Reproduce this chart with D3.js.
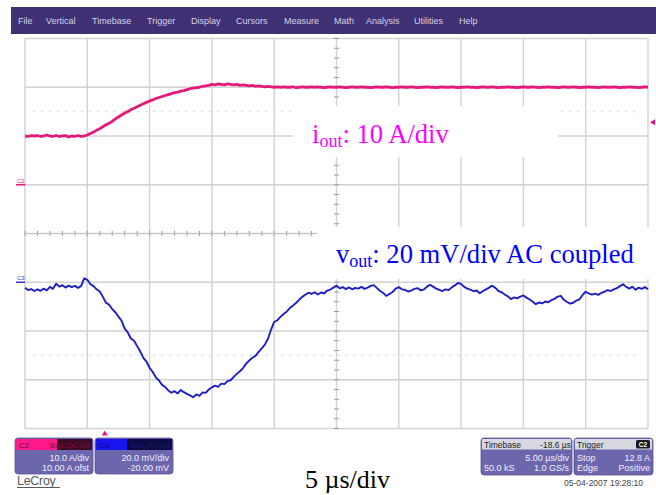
<!DOCTYPE html>
<html>
<head>
<meta charset="utf-8">
<script src="https://cdn.jsdelivr.net/npm/d3@7/dist/d3.min.js"></script>
<style>
  html, body { margin: 0; padding: 0; background: #ffffff; }
  svg { display: block; }
</style>
</head>
<body>
<svg id="scope" width="656" height="495"></svg>
<script>
// ---- Acquisition: uniform sampling, time in µs relative to trigger ----
const sampleStart = -6.4;   // µs at left edge of screen
const sampleStep = 0.25;    // µs between stored samples

// Channel 2: output current (A)
const ioutAmps = [
  10.0, 9.9, 10.1, 10.0, 10.1, 9.9, 10.0, 10.2, 10.0, 9.9,
  10.1, 9.9, 10.0, 10.1, 9.8, 10.0, 9.9, 10.1, 9.9, 10.0,
  10.2, 10.5, 10.8, 11.2, 11.5, 11.9, 12.3, 12.6, 13.0, 13.5,
  13.9, 14.3, 14.7, 15.0, 15.4, 15.7, 16.0, 16.3, 16.6, 16.9,
  17.2, 17.4, 17.7, 17.9, 18.1, 18.3, 18.5, 18.7, 18.9, 19.0,
  19.2, 19.3, 19.5, 19.7, 19.8, 19.9, 20.0, 20.2, 20.3, 20.4,
  20.6, 20.5, 20.7, 20.6, 20.5, 20.7, 20.6, 20.5, 20.6, 20.4,
  20.5, 20.4, 20.3, 20.4, 20.2, 20.3, 20.2, 20.1, 20.2, 20.1,
  20.0,
  20.1, 20.0, 20.1, 20.0, 20.0, 20.1, 19.9, 20.0, 20.1, 20.0,
  20.0, 20.1, 20.0, 20.1, 20.0, 19.9, 20.0, 20.1, 20.0, 20.0,
  20.1, 20.0, 19.9, 20.0, 20.1, 20.0, 20.0, 20.1, 20.0, 20.0,
  19.9, 20.0, 20.1, 20.0, 20.0, 20.1, 20.0, 19.9, 20.0, 20.0,
  20.1, 20.0, 20.0, 20.1, 20.0, 19.9, 20.0, 20.0, 20.1, 20.0,
  20.0, 19.9, 20.0, 20.1, 20.0, 20.0, 20.1, 20.0, 19.9, 20.0,
  20.0, 20.1, 20.0, 20.0, 19.9, 20.0, 20.1, 20.0, 20.0, 20.1,
  20.0, 19.9, 20.0, 20.0, 20.1, 20.0, 20.0, 19.9, 20.0, 20.1,
  20.0, 20.0, 20.1, 20.0, 19.9, 20.0, 20.0, 20.1, 20.0, 20.0,
  19.9, 20.0, 20.1, 20.0, 20.0, 20.1, 20.0, 19.9, 20.0, 20.0,
  20.1, 20.0, 20.0, 19.9, 20.0, 20.1, 20.0, 20.0, 20.1, 20.0,
  19.9, 20.0, 20.0, 20.1, 20.0, 20.0, 19.9, 20.0, 20.1, 20.0
];

// Channel 3: output voltage deviation, AC coupled (mV)
const voutMillivolts = [
  -2.3, -3.2, -2.8, -3.6, -2.9, -3.5, -2.6, -3.3, -1.9, -2.7,
  -0.6, -1.8, -1.2, -2.2, -1.4, -2.0, -1.5, -2.3, -1.6, 1.6,
  1.0, -0.8, -1.6, -2.9, -3.8, -6.0, -8.4, -9.2, -11.0, -12.3,
  -14.1, -15.8, -19.0, -20.6, -23.1, -24.0, -26.2, -28.4, -31.0, -32.6,
  -35.1, -36.8, -39.0, -40.3, -42.1, -43.0, -44.4, -45.3, -44.7, -45.6,
  -44.2, -45.1, -45.8, -46.4, -47.2, -46.0, -46.6, -45.2, -45.4, -44.0,
  -43.1, -42.4, -42.9, -41.6, -41.8, -40.6, -40.2, -38.8, -37.6, -36.5,
  -35.2, -33.4, -32.1, -31.0, -30.2, -28.6, -27.1, -25.6, -23.2, -19.4,
  -16.3, -15.6, -14.2, -13.0, -12.1, -10.6, -9.6, -8.5, -7.2, -6.0,
  -5.1, -4.3, -4.8, -4.1, -5.0, -4.2, -4.6, -3.4, -3.0, -2.2,
  -1.4, -2.5, -2.0, -2.8, -2.1, -2.9, -2.3, -2.6, -1.9, -2.7,
  -2.2, -1.5, -1.2, -2.4, -3.6, -4.4, -5.6, -4.8, -4.0, -2.6,
  -2.0, -2.9, -3.1, -3.8, -3.4, -2.7, -2.4, -3.3, -3.0, -1.9,
  -1.0, -1.8, -2.6, -3.1, -3.6, -2.9, -3.2, -2.1, -1.3, -0.3,
  -0.7, -1.9, -2.6, -3.0, -3.7, -3.4, -4.5, -3.6, -2.9, -2.2,
  -1.4, -2.3, -3.6, -4.1, -5.0, -5.8, -6.9, -6.2, -6.6, -5.9,
  -5.4, -6.3, -7.1, -8.0, -9.0, -8.3, -8.7, -7.9, -8.2, -7.3,
  -6.8, -5.9, -5.6, -7.2, -8.1, -8.8, -8.4, -7.5, -7.0, -5.2,
  -3.9, -4.6, -5.1, -4.7, -5.2, -4.4, -3.9, -3.2, -3.6, -2.9,
  -2.4, -1.6, -0.8, -1.9, -2.6, -1.8, -3.1, -2.2, -2.7, -2.0,
  -2.9
];

// Screen setup
const timePerDiv = 5;          // µs/div
const hDivs = 10, vDivs = 8;
const ch2PerDiv = 10, ch2Offset = 10;    // A/div, A offset
const ch3PerDiv = 20, ch3Offset = -20;   // mV/div, mV offset
const triggerLevel = 12.8;     // A
const triggerTime = 0;         // µs

const menuItems = ["File", "Vertical", "Timebase", "Trigger", "Display", "Cursors",
                   "Measure", "Math", "Analysis", "Utilities", "Help"];
const menuX = [18, 46, 92, 147, 191, 236, 284, 334, 366, 414, 459];

(function draw() {
  // ---- Geometry ----
  const gLeft = 25, gRight = 648, gTop = 38.5, gBottom = 428.5;

  const svg = d3.select("#scope");

  const x = d3.scaleLinear()
    .domain([sampleStart, sampleStart + hDivs * timePerDiv])
    .range([gLeft, gRight]);
  const yDiv = d3.scaleLinear().domain([-vDivs / 2, vDivs / 2]).range([gBottom, gTop]);
  // centre of screen sits at -offset
  const yCh2 = d3.scaleLinear()
    .domain([-ch2Offset - ch2PerDiv * vDivs / 2, -ch2Offset + ch2PerDiv * vDivs / 2])
    .range([gBottom, gTop]);
  const yCh3 = d3.scaleLinear()
    .domain([-ch3Offset - ch3PerDiv * vDivs / 2, -ch3Offset + ch3PerDiv * vDivs / 2])
    .range([gBottom, gTop]);

  const tOf = i => sampleStart + i * sampleStep;

  // ---- Menu bar ----
  svg.append("rect").attr("x", 11).attr("y", 7).attr("width", 645).attr("height", 27)
    .attr("fill", "#3f3173");
  svg.append("g").selectAll("text").data(menuItems).join("text")
    .attr("x", (d, i) => menuX[i]).attr("y", 24)
    .attr("font-family", "Liberation Sans, Arial, sans-serif")
    .attr("font-size", 9).attr("fill", "#d6d2ea")
    .text(d => d);

  // ---- Graticule ----
  const grid = svg.append("g");
  const vLines = d3.range(0, hDivs + 1).map(k => sampleStart + k * timePerDiv);
  const hLines = d3.range(-vDivs / 2, vDivs / 2 + 1);

  grid.selectAll(".gv").data(vLines).join("line")
    .attr("x1", d => x(d)).attr("x2", d => x(d))
    .attr("y1", gTop).attr("y2", gBottom)
    .attr("stroke", "#d2d2d2").attr("stroke-width", 1.4);
  grid.selectAll(".gh").data(hLines).join("line")
    .attr("x1", gLeft).attr("x2", gRight)
    .attr("y1", d => yDiv(d)).attr("y2", d => yDiv(d))
    .attr("stroke", "#d2d2d2").attr("stroke-width", 1.4);

  // faint dashed half-division lines
  grid.selectAll(".gf").data([2.5, -2.5]).join("line")
    .attr("x1", gLeft + 8).attr("x2", gRight - 8)
    .attr("y1", d => yDiv(d)).attr("y2", d => yDiv(d))
    .attr("stroke", "#e0e0e0").attr("stroke-width", 1.2)
    .attr("stroke-dasharray", "3,5");

  // minor ticks on the centre cross
  const xCenter = x(sampleStart + hDivs * timePerDiv / 2);
  const yCenter = yDiv(0);
  const hMinor = d3.range(0, hDivs * 5 + 1).map(k => sampleStart + k * timePerDiv / 5);
  const vMinor = d3.range(-vDivs / 2 * 5, vDivs / 2 * 5 + 1).map(k => k / 5);
  grid.selectAll(".mh").data(hMinor).join("line")
    .attr("x1", d => x(d)).attr("x2", d => x(d))
    .attr("y1", yCenter - 2.5).attr("y2", yCenter + 2.5)
    .attr("stroke", "#9a9a9a").attr("stroke-width", 1);
  grid.selectAll(".mv").data(vMinor).join("line")
    .attr("x1", xCenter - 2.5).attr("x2", xCenter + 2.5)
    .attr("y1", d => yDiv(d)).attr("y2", d => yDiv(d))
    .attr("stroke", "#9a9a9a").attr("stroke-width", 1);
  grid.append("line")
    .attr("x1", gLeft).attr("x2", gRight).attr("y1", yCenter).attr("y2", yCenter)
    .attr("stroke", "#c4c4c4").attr("stroke-width", 1);

  // ---- Traces ----
  const ch2Color = "#e5197a", ch3Color = "#1e1ec6";

  svg.append("path").datum(ioutAmps)
    .attr("fill", "none").attr("stroke", ch2Color).attr("stroke-width", 2.8)
    .attr("stroke-linejoin", "round")
    .attr("d", d3.line().x((d, i) => x(tOf(i))).y(d => yCh2(d)));

  svg.append("path").datum(voutMillivolts)
    .attr("fill", "none").attr("stroke", ch3Color).attr("stroke-width", 1.9)
    .attr("stroke-linejoin", "round")
    .attr("d", d3.line().x((d, i) => x(tOf(i))).y(d => yCh3(d)));

  // ---- Channel ground markers ----
  function groundMarker(label, yPos, color) {
    const g = svg.append("g");
    g.append("line").attr("x1", 16).attr("x2", gLeft).attr("y1", yPos).attr("y2", yPos)
      .attr("stroke", color).attr("stroke-width", 1.6);
    g.append("text").attr("x", 17).attr("y", yPos - 2)
      .attr("font-family", "Liberation Sans, Arial, sans-serif")
      .attr("font-size", 6).attr("fill", color).text(label);
  }
  groundMarker("C2", yCh2(0), ch2Color);
  groundMarker("C3", yCh3(0), "#3a3ad0");

  // trigger level (right) and trigger time (bottom) markers
  const tl = yCh2(triggerLevel);
  svg.append("path")
    .attr("d", `M${gRight + 2},${tl} L${gRight + 7},${tl - 3} L${gRight + 7},${tl + 3} Z`)
    .attr("fill", ch2Color);
  const tx = x(triggerTime);
  svg.append("path")
    .attr("d", `M${tx},${gBottom + 2} L${tx - 3},${gBottom + 7} L${tx + 3},${gBottom + 7} Z`)
    .attr("fill", ch2Color);

  // ---- Trace annotations ----
  function annotation(box, tx0, ty, main, sub, rest, color) {
    svg.append("rect").attr("x", box[0]).attr("y", box[1])
      .attr("width", box[2] - box[0]).attr("height", box[3] - box[1]).attr("fill", "#ffffff");
    const t = svg.append("text").attr("x", tx0).attr("y", ty)
      .attr("font-family", "Liberation Serif, Times New Roman, serif")
      .attr("font-size", 26.6).attr("fill", color);
    t.append("tspan").text(main);
    t.append("tspan").attr("font-size", 18).attr("dy", 4).text(sub);
    t.append("tspan").attr("dy", -4).text(rest);
  }
  annotation([293, 106, 558, 157], 312, 142.5, "i", "out", ": 10 A/div", "#ff00ff");
  annotation([317, 227, 652, 279], 336, 263, "v", "out", ": 20 mV/div AC coupled", "#0000ff");

  // ---- Status boxes ----
  const sans = "Liberation Sans, Arial, sans-serif";
  const bodyFill = "#6c66ad", textFill = "#f2f0ff";

  function channelBox(x0, w, head1, head2, split, line1, line2, cLeft, cRight, headText, headText2) {
    const g = svg.append("g");
    g.append("rect").attr("x", x0).attr("y", 438).attr("width", w).attr("height", 36)
      .attr("rx", 3).attr("fill", bodyFill).attr("stroke", "#5a5499").attr("stroke-width", 0.8);
    g.append("rect").attr("x", x0 + 1).attr("y", 439).attr("width", split - 1).attr("height", 11)
      .attr("fill", cLeft);
    g.append("rect").attr("x", x0 + split).attr("y", 439).attr("width", w - split - 1).attr("height", 11)
      .attr("fill", cRight);
    g.append("text").attr("x", x0 + 4).attr("y", 448).attr("font-family", sans)
      .attr("font-size", 8).attr("fill", headText).text(head1);
    g.append("text").attr("x", x0 + w - 3).attr("y", 448).attr("text-anchor", "end")
      .attr("font-family", sans).attr("font-size", 8).attr("fill", headText2).text(head2);
    g.append("text").attr("x", x0 + w - 4).attr("y", 460.5).attr("text-anchor", "end")
      .attr("font-family", sans).attr("font-size", 9).attr("fill", textFill).text(line1);
    g.append("text").attr("x", x0 + w - 4).attr("y", 470.5).attr("text-anchor", "end")
      .attr("font-family", sans).attr("font-size", 9).attr("fill", textFill).text(line2);
  }
  channelBox(15, 78, "C2", "BwL DC1M", 42, `${ch2PerDiv.toFixed(1)} A/div`,
    `${ch2Offset.toFixed(2)} A ofst`, "#ff1a8a", "#3c0a24", "#6a0a30", "#7a1040");
  channelBox(95, 78, "C3", "BwL AC1M", 32, `${ch3PerDiv.toFixed(1)} mV/div`,
    `${ch3Offset.toFixed(2)} mV`, "#1a14ee", "#0c0a44", "#0a0a70", "#1a1a66");

  function infoBox(x0, w, title, titleRight, rows, badge) {
    const g = svg.append("g");
    g.append("rect").attr("x", x0).attr("y", 438).attr("width", w).attr("height", 37)
      .attr("rx", 3).attr("fill", bodyFill).attr("stroke", "#5a5499").attr("stroke-width", 0.8);
    g.append("rect").attr("x", x0 + 1).attr("y", 439).attr("width", w - 2).attr("height", 10.5)
      .attr("fill", "#d8d8e0");
    g.append("text").attr("x", x0 + 3).attr("y", 447.5).attr("font-family", sans)
      .attr("font-size", 8.5).attr("fill", "#222").text(title);
    if (titleRight) {
      g.append("text").attr("x", x0 + w - 1).attr("y", 447.5).attr("text-anchor", "end")
        .attr("font-family", sans).attr("font-size", 8.5).attr("fill", "#222").text(titleRight);
    }
    if (badge) {
      g.append("rect").attr("x", x0 + w - 17).attr("y", 440).attr("width", 14).attr("height", 8.5)
        .attr("rx", 1.5).attr("fill", "#1a1a22");
      g.append("text").attr("x", x0 + w - 10).attr("y", 447).attr("text-anchor", "middle")
        .attr("font-family", sans).attr("font-size", 6.5).attr("font-weight", "bold")
        .attr("fill", "#ffffff").text(badge);
    }
    rows.forEach((r, k) => {
      const yy = 461 + k * 10;
      if (r[0]) g.append("text").attr("x", x0 + 3).attr("y", yy).attr("font-family", sans)
        .attr("font-size", 9).attr("fill", textFill).text(r[0]);
      if (r[1]) g.append("text").attr("x", x0 + w - 3).attr("y", yy).attr("text-anchor", "end")
        .attr("font-family", sans).attr("font-size", 9).attr("fill", textFill).text(r[1]);
    });
  }
  infoBox(481, 91, "Timebase", "-18.6 µs",
    [["", `${timePerDiv.toFixed(2)} µs/div`], ["50.0 kS", "1.0 GS/s"]]);
  infoBox(574, 79, "Trigger", null,
    [["Stop", `${triggerLevel} A`], ["Edge", "Positive"]], "C2");

  svg.append("text").attr("x", 643).attr("y", 485.5).attr("text-anchor", "end")
    .attr("font-family", sans).attr("font-size", 8.5).attr("fill", "#444").text("05-04-2007 19:28:10");

  // maker logo
  svg.append("text").attr("x", 17).attr("y", 485).attr("font-family", sans)
    .attr("font-size", 12.5).attr("fill", "#5a5a5a").attr("letter-spacing", -0.3)
    .text("LeCroy");
  svg.append("line").attr("x1", 17).attr("x2", 60).attr("y1", 487.5).attr("y2", 487.5)
    .attr("stroke", "#5a5a5a").attr("stroke-width", 1.2);

  // horizontal scale caption
  svg.append("text").attr("x", 305).attr("y", 488)
    .attr("font-family", "Liberation Serif, Times New Roman, serif")
    .attr("font-size", 26).attr("fill", "#000").text(`${timePerDiv} µs/div`);
})();
</script>
</body>
</html>
